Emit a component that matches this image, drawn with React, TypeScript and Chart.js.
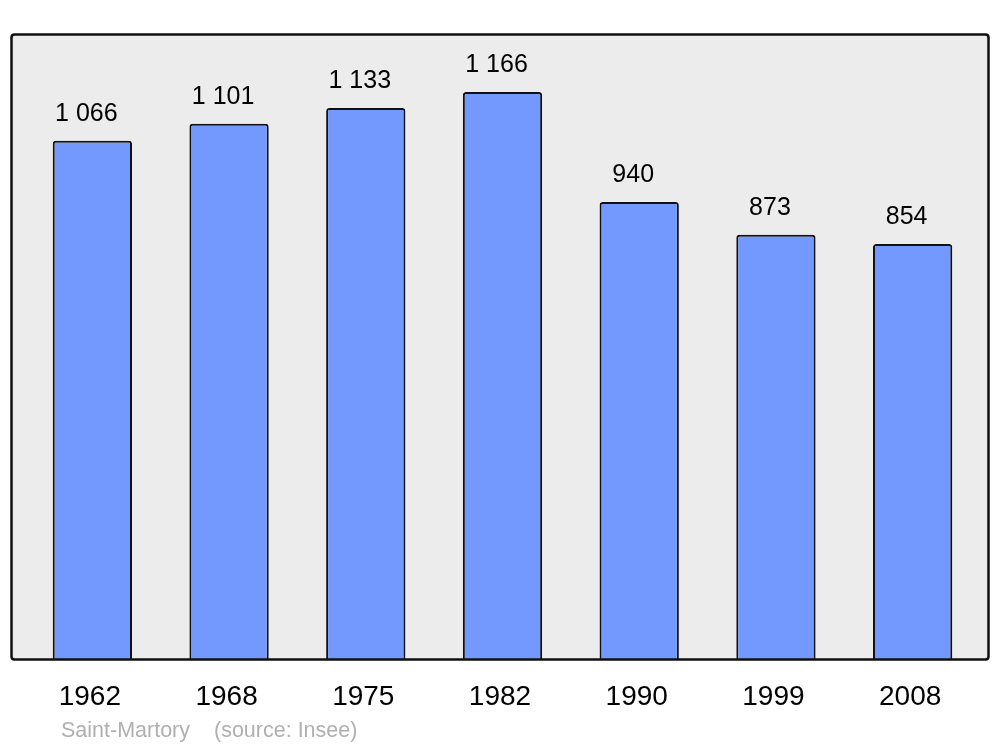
import React, { useEffect, useRef } from "react";
import { Chart, registerables } from "chart.js";

Chart.register(...registerables);

const years = ["1962", "1968", "1975", "1982", "1990", "1999", "2008"];
const population = [1066, 1101, 1133, 1166, 940, 873, 854];
const placeName = "Saint-Martory";
const sourceText = "(source: Insee)";

const FONT = '"Liberation Sans", Arial, sans-serif';

function fmt(v: number): string {
  const s = String(v);
  return s.length > 3 ? s.slice(0, s.length - 3) + " " + s.slice(-3) : s;
}

function roundRect(ctx: CanvasRenderingContext2D, x: number, y: number, w: number, h: number, r: number) {
  ctx.beginPath();
  ctx.moveTo(x + r, y);
  ctx.lineTo(x + w - r, y);
  ctx.quadraticCurveTo(x + w, y, x + w, y + r);
  ctx.lineTo(x + w, y + h - r);
  ctx.quadraticCurveTo(x + w, y + h, x + w - r, y + h);
  ctx.lineTo(x + r, y + h);
  ctx.quadraticCurveTo(x, y + h, x, y + h - r);
  ctx.lineTo(x, y + r);
  ctx.quadraticCurveTo(x, y, x + r, y);
  ctx.closePath();
}

const frame = { left: 11.5, top: 34.5, right: 988.5, bottom: 659.5 };

const framePlugin = {
  id: "framePlugin",
  beforeDatasetsDraw(chart: any) {
    const ctx = chart.ctx;
    ctx.save();
    roundRect(ctx, frame.left, frame.top, frame.right - frame.left, frame.bottom - frame.top, 3);
    ctx.fillStyle = "#ececec";
    ctx.fill();
    ctx.restore();
  },
  afterDatasetsDraw(chart: any) {
    const ctx = chart.ctx;
    ctx.save();
    roundRect(ctx, frame.left, frame.top, frame.right - frame.left, frame.bottom - frame.top, 3);
    ctx.strokeStyle = "#111";
    ctx.lineWidth = 2.5;
    ctx.stroke();
    // value labels
    const meta = chart.getDatasetMeta(0);
    ctx.fillStyle = "#000";
    ctx.font = `25px ${FONT}`;
    ctx.textAlign = "center";
    ctx.textBaseline = "alphabetic";
    meta.data.forEach((bar: any, i: number) => {
      ctx.fillText(fmt(population[i]), bar.x - 6, bar.y - 20);
    });
    // source line
    ctx.fillStyle = "#b0b0b0";
    ctx.font = `21.5px ${FONT}`;
    ctx.textAlign = "left";
    ctx.fillText(placeName, 61, 737);
    ctx.fillText(sourceText, 214, 737);
    ctx.restore();
  },
};

export default function App() {
  const ref = useRef<HTMLCanvasElement | null>(null);
  useEffect(() => {
    if (!ref.current) return;
    const chart = new Chart(ref.current, {
      type: "bar",
      data: {
        labels: years,
        datasets: [
          {
            data: population,
            backgroundColor: "#7399ff",
            borderColor: "#111",
            borderWidth: 2,
            borderRadius: 3,
            borderSkipped: "start",
            barPercentage: 0.58,
            categoryPercentage: 1,
          },
        ],
      },
      options: {
        responsive: false,
        animation: false,
        devicePixelRatio: 1,
        layout: { padding: { left: 24, right: 19, top: 34, bottom: 0 } },
        plugins: { legend: { display: false }, tooltip: { enabled: false } },
        scales: {
          y: { display: false, min: 0, max: 1285 },
          x: {
            display: true,
            border: { display: false },
            grid: { display: false, drawTicks: false },
            ticks: {
              color: "#000",
              font: { family: FONT, size: 28 },
              padding: 20,
              maxRotation: 0,
              labelOffset: -2.5,
            },
            afterFit: (scale: any) => {
              scale.height = 87;
            },
          },
        },
      },
      plugins: [framePlugin],
    });
    return () => chart.destroy();
  }, []);
  return (
    <div style={{ position: "absolute", left: 0, top: 0, width: 1000, height: 747, background: "#fff" }}>
      <canvas ref={ref} width={1000} height={747} />
    </div>
  );
}
